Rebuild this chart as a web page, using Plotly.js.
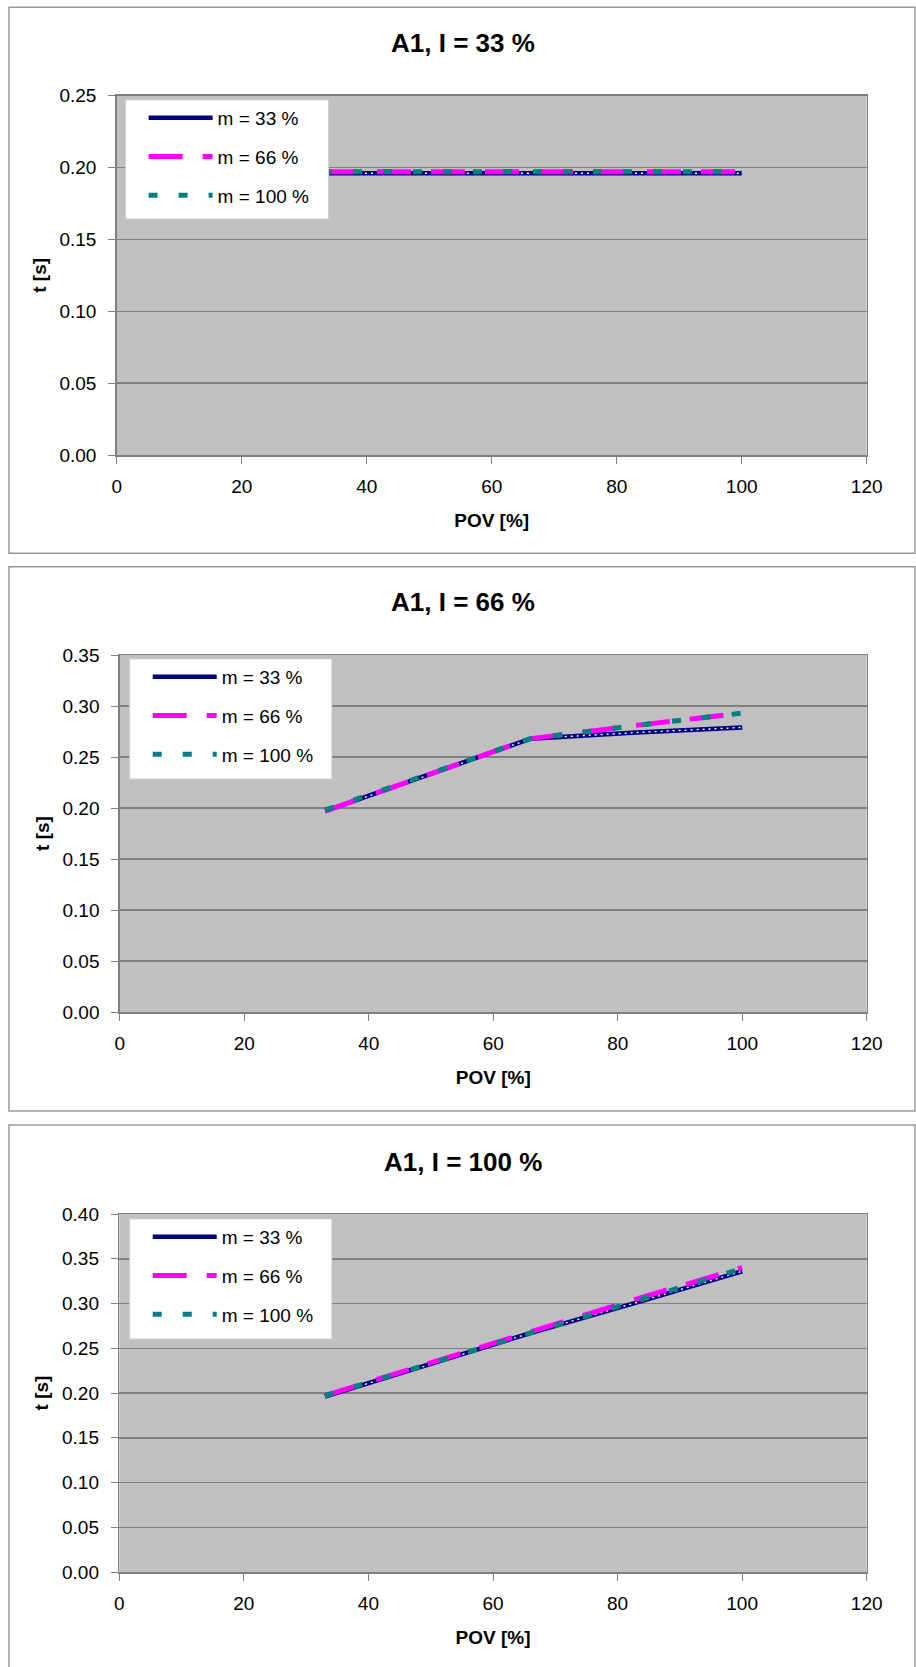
<!DOCTYPE html>
<html><head><meta charset="utf-8">
<script src="https://cdn.plot.ly/plotly-3.0.1.min.js"></script>
<style>html,body{margin:0;padding:0;background:#fff;} #chart{width:916px;height:1667px;}</style>
</head><body><div id="chart"></div>
<script>
// ---- data ----
const pov = [33, 50, 66, 83, 100];
const seriesNames = ['m = 33 %', 'm = 66 %', 'm = 100 %'];
const panelTitles = ['A1, I = 33 %', 'A1, I = 66 %', 'A1, I = 100 %'];
const xTickVals = [0, 20, 40, 60, 80, 100, 120];
const yMaxes = [0.25, 0.35, 0.40];
// I = 33 %
const i33_m33  = [0.196, 0.196, 0.196, 0.196, 0.196];
const i33_m66  = [0.197, 0.197, 0.197, 0.197, 0.197];
const i33_m100 = [0.197, 0.197, 0.197, 0.197, 0.197];
// I = 66 %
const i66_m33  = [0.197, 0.233, 0.268, 0.274, 0.279];
const i66_m66  = [0.197, 0.234, 0.268, 0.281, 0.293];
const i66_m100 = [0.198, 0.234, 0.268, 0.281, 0.293];
// I = 100 %
const i100_m33  = [0.196, 0.232, 0.267, 0.301, 0.336];
const i100_m66  = [0.197, 0.234, 0.269, 0.305, 0.340];
const i100_m100 = [0.197, 0.233, 0.268, 0.304, 0.339];

const panels = [
  [i33_m33, i33_m66, i33_m100],
  [i66_m33, i66_m66, i66_m100],
  [i100_m33, i100_m66, i100_m100]
];

// ---- geometry (px) ----
const W = 916, H = 1667;
const plotBox = [
  {l: 116.7, r: 866.7, t: 95.7, b: 455},
  {l: 119.8, r: 866.7, t: 655, b: 1012},
  {l: 119.3, r: 866.7, t: 1214, b: 1572}
];
const panelBox = [
  {t: 7.3, b: 553.3},
  {t: 566.7, b: 1111},
  {t: 1125, b: 1690}
];
const titleY = [43, 602.5, 1161.5];
const legendBox = [
  {l: 125.6, r: 328.5, t: 100, b: 219},
  {l: 129.7, r: 331.8, t: 659, b: 779},
  {l: 129.7, r: 331.8, t: 1219, b: 1339}
];

const FONT = 'Liberation Sans, Arial, sans-serif';
const fx = px => px / W;
const fy = px => 1 - px / H;

const traces = [];
const layout = {
  width: W, height: H, autosize: false,
  margin: {l: 0, r: 0, t: 0, b: 0},
  paper_bgcolor: '#ffffff',
  plot_bgcolor: '#c0c0c0',
  font: {family: FONT, size: 19, color: '#000'},
  showlegend: true,
  annotations: [],
  shapes: []
};

panels.forEach((ser, p) => {
  const sfx = p === 0 ? '' : String(p + 1);
  const xa = 'x' + sfx, ya = 'y' + sfx;
  const lg = 'legend' + sfx;
  // m = 33 %: navy chain line
  traces.push({x: pov, y: ser[0], xaxis: xa, yaxis: ya, mode: 'lines', name: seriesNames[0],
    legend: lg, legendgroup: 'g0' + p, line: {color: '#000080', width: 4.5}, hoverinfo: 'skip'});
  traces.push({x: pov, y: ser[0], xaxis: xa, yaxis: ya, mode: 'lines', name: seriesNames[0],
    legend: lg, legendgroup: 'g0' + p, showlegend: false,
    line: {color: '#ffffff', width: 1.4, dash: '2px,4px'}, hoverinfo: 'skip'});
  traces.push({x: pov, y: ser[1], xaxis: xa, yaxis: ya, mode: 'lines', name: seriesNames[1],
    legend: lg, legendgroup: 'g1' + p, line: {color: '#ff00ff', width: 5, dash: '34px,20px'}, hoverinfo: 'skip'});
  traces.push({x: pov, y: ser[2], xaxis: xa, yaxis: ya, mode: 'lines', name: seriesNames[2],
    legend: lg, legendgroup: 'g2' + p, line: {color: '#008080', width: 5, dash: '9px,21px'}, hoverinfo: 'skip'});

  const b = plotBox[p];
  layout['xaxis' + sfx] = {
    domain: [fx(b.l), fx(b.r)], anchor: ya,
    range: [0, 120], tickvals: xTickVals, ticks: 'outside', ticklen: 7, tickcolor: '#808080',
    showgrid: false, zeroline: false, showline: true, linecolor: '#808080', linewidth: 1.5, mirror: true,
    tickfont: {family: FONT, size: 19, color: '#000'}, ticklabelstandoff: 7,
    title: {text: '<b>POV [%]</b>', font: {family: FONT, size: 19, color: '#000'}, standoff: 17},
    fixedrange: true
  };
  const yt = [];
  for (let v = 0; v <= yMaxes[p] + 1e-9; v += 0.05) yt.push(+v.toFixed(2));
  layout['yaxis' + sfx] = {
    domain: [fy(b.b), fy(b.t)], anchor: xa,
    range: [0, yMaxes[p]], tickvals: yt, tickformat: '.2f', ticks: 'outside', ticklen: 7, tickcolor: '#808080',
    showgrid: true, gridcolor: '#808080', gridwidth: 1.5, zeroline: false,
    showline: true, linecolor: '#808080', linewidth: 1.5, mirror: true,
    tickfont: {family: FONT, size: 19, color: '#000'}, ticklabelstandoff: 8,
    title: {text: '<b>t [s]</b>', font: {family: FONT, size: 19, color: '#000'}, standoff: 8},
    fixedrange: true
  };
  const lb = legendBox[p];
  layout[lg] = {
    x: fx(lb.l + 18), y: fy(lb.t - 1), xanchor: 'left', yanchor: 'top',
    bgcolor: 'rgba(0,0,0,0)', borderwidth: 0, itemwidth: 64,
    traceorder: 'grouped', tracegroupgap: 11,
    font: {family: FONT, size: 19, color: '#000'}
  };
  layout.shapes.push({type: 'rect', xref: 'paper', yref: 'paper', layer: 'above',
    x0: fx(lb.l), x1: fx(lb.r), y0: fy(lb.b), y1: fy(lb.t),
    fillcolor: '#ffffff', line: {color: '#d0d0d0', width: 1}});
  const pb = panelBox[p];
  layout.shapes.push({type: 'rect', xref: 'paper', yref: 'paper', layer: 'below',
    x0: fx(9), x1: fx(915), y0: fy(pb.b), y1: fy(pb.t),
    fillcolor: 'rgba(0,0,0,0)', line: {color: '#999999', width: 1.5}});
  layout.annotations.push({text: '<b>' + panelTitles[p] + '</b>', xref: 'paper', yref: 'paper',
    x: fx(463), y: fy(titleY[p]), xanchor: 'center', yanchor: 'middle', showarrow: false,
    font: {family: FONT, size: 26, color: '#000'}});
});

Plotly.newPlot('chart', traces, layout, {displayModeBar: false, staticPlot: true});
</script></body></html>
